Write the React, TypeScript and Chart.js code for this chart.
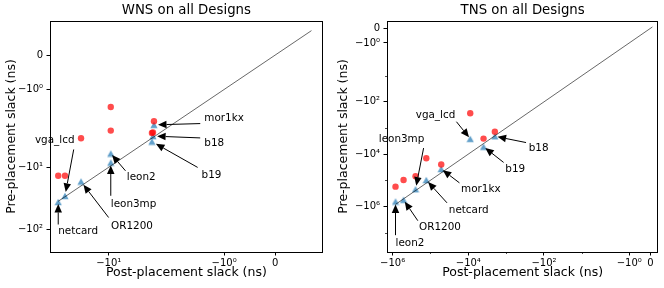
import React, { useEffect, useRef } from 'react';
import { Chart, Scale, registerables } from 'chart.js';

Chart.register(...registerables);

const FONT = "'DejaVu Sans', sans-serif";

// ---------------- WNS data ----------------
const wnsDesigns = ['netcard', 'vga_lcd', 'OR1200', 'leon3mp', 'leon2', 'mor1kx', 'b18', 'b19'];
const wnsPost = [-35.4, -29.9, -20.0, -9.5, -9.5, -3.22, -3.3, -3.39];
const wnsPre = [-36.3, -29.0, -17.0, -8.4, -6.0, -2.07, -3.14, -3.85];
const wnsPred = [-13.7, -13.7, -3.41, -2.56, -1.51, -1.92, -2.75, -2.8];
const wnsDiag = [-35.4, 0.71];
const wnsXRange = [-43.5, 0.93];
const wnsYRange = [-233, 0.99];
const wnsXTicks = [-10, -1, 0];
const wnsXTickLabels = ['−10¹', '−10⁰', '0'];
const wnsYTicks = [-100, -10, -1, 0];
const wnsYTickLabels = ['−10²', '−10¹', '−10⁰', '0'];
const wnsXMinorTicks: number[] = [];
const wnsYMinorTicks: number[] = [];
const wnsLabelOffsets = [[0, 32.4], [-30, -53], [30, 47], [0, 44], [16, 26.7], [50.3, -3.9], [51.3, 9.9], [49.7, 36]];

// ---------------- TNS data ----------------
const tnsDesigns = ['leon2', 'OR1200', 'leon3mp', 'netcard', 'mor1kx', 'vga_lcd', 'b19', 'b18'];
const tnsPost = [-8.4e5, -5.15e5, -2.48e5, -1.29e5, -5.2e4, -8.9e3, -3.96e3, -1.99e3];
const tnsPre = [-6.5e5, -5.6e5, -2.2e5, -9.8e4, -3.7e4, -2.6e3, -5.2e3, -2.08e3];
const tnsPred = [-1.76e5, -9.8e4, -7.0e4, -1.44e4, -2.5e4, -274, -2550, -1390];
const tnsDiag = [-8.4e5, 0.1];
const tnsXRange = [-1.41e6, 0.38];
const tnsYRange = [-5.56e7, 0.51];
const tnsXTicks = [-1e6, -1e4, -100, -1, 0];
const tnsXTickLabels = ['−10⁶', '−10⁴', '−10²', '−10⁰', '0'];
const tnsYTicks = [-1e6, -1e4, -100, -1, 0];
const tnsYTickLabels = ['−10⁶', '−10⁴', '−10²', '−10⁰', '0'];
const tnsXMinorTicks = [-1e5, -1e3, -10];
const tnsYMinorTicks = [-1e7, -1e5, -1e3, -10];
const tnsLabelOffsets = [[0, 44.5], [15.5, 30.6], [-36.8, -47.2], [22.5, 32.7], [19.8, 23], [-54.5, -21.1], [21.8, 25], [33.9, 14.7]];

// ---------------- symlog scale ----------------
const LINTHRESH = 2;
const LINADJ = 1 / (1 - 1 / 10);
function symlog(v: number) {
  const a = Math.abs(v);
  if (a <= LINTHRESH) return v * LINADJ;
  return Math.sign(v) * LINTHRESH * (LINADJ + Math.log10(a / LINTHRESH));
}
function invSymlog(t: number) {
  const a = Math.abs(t);
  if (a <= LINTHRESH * LINADJ) return t / LINADJ;
  return Math.sign(t) * LINTHRESH * Math.pow(10, a / LINTHRESH - LINADJ);
}

class SymlogScale extends Scale {
  static id = 'symlog';
  static defaults = {};
  _t0: number = 0;
  _t1: number = 1;
  determineDataLimits() {
    const o: any = this.options;
    const mm = this.getMinMax(false);
    this.min = o.min ?? mm.min;
    this.max = o.max ?? mm.max;
  }
  buildTicks() {
    const o: any = this.options;
    return (o.tickValues || []).map((v: number) => ({ value: v }));
  }
  configure() {
    super.configure();
    this._t0 = symlog(this.min);
    this._t1 = symlog(this.max);
  }
  getPixelForValue(v: number) {
    return this.getPixelForDecimal((symlog(v) - this._t0) / (this._t1 - this._t0));
  }
  getValueForPixel(p: number) {
    return invSymlog(this._t0 + this.getDecimalForPixel(p) * (this._t1 - this._t0));
  }
  getLabelForValue(v: number) {
    return String(v);
  }
}
Chart.register(SymlogScale as any);

// ---------------- markers ----------------
function triangleMarker(color: string) {
  const c = document.createElement('canvas');
  c.width = 8;
  c.height = 8;
  const g = c.getContext('2d')!;
  g.fillStyle = color;
  g.beginPath();
  g.moveTo(4, 0.8);
  g.lineTo(7.6, 7.2);
  g.lineTo(0.4, 7.2);
  g.closePath();
  g.fill();
  return c;
}

const ANN_FS = 10.4;
const SHRINK = 0.08;

function drawArrow(ctx: CanvasRenderingContext2D, x0: number, y0: number, x1: number, y1: number) {
  const dx = x1 - x0, dy = y1 - y0;
  const r = Math.hypot(dx, dy);
  if (r < 1) return;
  const ux = dx / r, uy = dy / r;
  const s = SHRINK * r;
  const sx = x0 + ux * s, sy = y0 + uy * s;
  const ex = x1 - ux * s, ey = y1 - uy * s;
  const hl = 8.5, hw = 7.5;
  const bx = ex - ux * hl, by = ey - uy * hl;
  ctx.strokeStyle = '#000';
  ctx.fillStyle = '#000';
  ctx.lineWidth = 1;
  ctx.beginPath();
  ctx.moveTo(sx, sy);
  ctx.lineTo(bx, by);
  ctx.stroke();
  ctx.beginPath();
  ctx.moveTo(ex, ey);
  ctx.lineTo(bx - uy * hw / 2, by + ux * hw / 2);
  ctx.lineTo(bx + uy * hw / 2, by - ux * hw / 2);
  ctx.closePath();
  ctx.fill();
}

function closest(arr: number[], v: number) {
  let best = arr[0];
  for (const a of arr) if (Math.abs(a - v) < Math.abs(best - v)) best = a;
  return best;
}

type Cfg = {
  title: string;
  designs: string[];
  post: number[];
  pre: number[];
  pred: number[];
  diag: number[];
  xRange: number[];
  yRange: number[];
  xTicks: number[];
  xTickLabels: string[];
  yTicks: number[];
  yTickLabels: string[];
  xMinor: number[];
  yMinor: number[];
  offsets: number[][];
  yAxisWidth: number;
  padRight: number;
  yTitlePad: number;
  left: number;
};

const TICK_FS = 10;

function makePlugin(cfg: Cfg) {
  return {
    id: 'frameAnnot',
    afterDraw(chart: any) {
      const { ctx, chartArea: a } = chart;
      const xs = chart.scales.x, ys = chart.scales.y;
      ctx.save();
      // y tick labels
      ctx.font = `${TICK_FS}px ${FONT}`;
      ctx.fillStyle = '#000';
      ctx.textAlign = 'right';
      ctx.textBaseline = 'middle';
      cfg.yTicks.forEach((v, i) => {
        ctx.fillText(cfg.yTickLabels[i], a.left - 7, ys.getPixelForValue(v));
      });
      // minor ticks
      ctx.strokeStyle = '#000';
      ctx.lineWidth = 0.7;
      cfg.xMinor.forEach((v) => {
        const px = Math.round(xs.getPixelForValue(v)) + 0.5;
        ctx.beginPath();
        ctx.moveTo(px, a.bottom);
        ctx.lineTo(px, a.bottom + 2);
        ctx.stroke();
      });
      cfg.yMinor.forEach((v) => {
        const py = ys.getPixelForValue(v);
        if (py < a.top || py > a.bottom) return;
        const y = Math.round(py) + 0.5;
        ctx.beginPath();
        ctx.moveTo(a.left, y);
        ctx.lineTo(a.left - 2, y);
        ctx.stroke();
      });
      // frame
      ctx.lineWidth = 1;
      const l = Math.round(a.left) + 0.5, t = Math.round(a.top) + 0.5;
      const r = Math.round(a.right) - 0.5, b = Math.round(a.bottom) + 0.5;
      ctx.strokeRect(l, t, r - l, b - t);
      // annotations
      ctx.font = `${ANN_FS}px ${FONT}`;
      ctx.textAlign = 'left';
      ctx.textBaseline = 'alphabetic';
      cfg.designs.forEach((name, i) => {
        const px = xs.getPixelForValue(cfg.post[i]);
        const py = ys.getPixelForValue(cfg.pre[i]);
        const [dx, dy] = cfg.offsets[i];
        const tx = px + dx, ty = py + dy;
        ctx.fillStyle = '#000';
        ctx.fillText(name, tx, ty);
        const w = ctx.measureText(name).width;
        const bxs = [tx, tx + w / 2, tx + w];
        const bys = [ty - 0.76 * ANN_FS, ty - 0.26 * ANN_FS, ty + 0.24 * ANN_FS];
        drawArrow(ctx, closest(bxs, px), closest(bys, py), px, py);
      });
      ctx.restore();
    },
  };
}

function buildConfig(cfg: Cfg): any {
  const tickFont = { family: FONT, size: TICK_FS };
  const grid = { display: true, drawOnChartArea: false, drawTicks: true, tickLength: 3.5, tickColor: '#000', tickWidth: 1 };
  return {
    type: 'scatter',
    data: {
      datasets: [
        {
          data: cfg.diag.map((v) => ({ x: v, y: v })),
          showLine: true,
          borderColor: 'rgba(0,0,0,0.75)',
          borderWidth: 0.8,
          pointRadius: 0,
          order: 0,
        },
        {
          data: cfg.post.map((x, i) => ({ x, y: cfg.pred[i] })),
          pointStyle: 'circle',
          pointRadius: 3.2,
          backgroundColor: 'rgba(255,0,0,0.7)',
          borderWidth: 0,
          order: 1,
        },
        {
          data: cfg.post.map((x, i) => ({ x, y: cfg.pre[i] })),
          pointStyle: triangleMarker('rgba(31,119,180,0.7)'),
          pointRadius: 4,
          borderWidth: 0,
          order: 2,
        },
      ],
    },
    options: {
      responsive: false,
      animation: false,
      events: [],
      layout: { padding: { left: 0, right: cfg.padRight, top: 0, bottom: 0 } },
      plugins: {
        legend: { display: false },
        tooltip: { enabled: false },
        title: {
          display: true,
          text: cfg.title,
          fullSize: false,
          color: '#000',
          font: { family: FONT, size: 13.3, weight: 'normal', lineHeight: 1.2 },
          padding: { top: 3, bottom: 2.04 },
        },
      },
      scales: {
        x: {
          type: 'symlog',
          position: 'bottom',
          min: cfg.xRange[0],
          max: cfg.xRange[1],
          tickValues: cfg.xTicks,
          ticks: {
            autoSkip: false,
            maxRotation: 0,
            padding: 2,
            color: '#000',
            font: tickFont,
            callback: (_v: any, i: number) => cfg.xTickLabels[i],
          },
          grid,
          border: { display: false },
          title: {
            display: true,
            text: 'Post-placement slack (ns)',
            color: '#000',
            font: { family: FONT, size: 12.5, lineHeight: 1.2 },
            padding: { top: 0, bottom: 7.3 },
          },
          afterFit: (s: any) => {
            s.height = 36;
          },
        },
        y: {
          type: 'symlog',
          position: 'left',
          min: cfg.yRange[0],
          max: cfg.yRange[1],
          tickValues: cfg.yTicks,
          ticks: {
            display: false,
            autoSkip: false,
            font: tickFont,
          },
          grid,
          border: { display: false },
          title: {
            display: true,
            text: 'Pre-placement slack (ns)',
            color: '#000',
            font: { family: FONT, size: 12.5, lineHeight: 1.2 },
            padding: { top: cfg.yTitlePad, bottom: 0 },
          },
          afterFit: (s: any) => {
            s.width = cfg.yAxisWidth;
          },
        },
      },
    },
    plugins: [makePlugin(cfg)],
  };
}

const wnsCfg: Cfg = {
  title: 'WNS on all Designs',
  designs: wnsDesigns,
  post: wnsPost,
  pre: wnsPre,
  pred: wnsPred,
  diag: wnsDiag,
  xRange: wnsXRange,
  yRange: wnsYRange,
  xTicks: wnsXTicks,
  xTickLabels: wnsXTickLabels,
  yTicks: wnsYTicks,
  yTickLabels: wnsYTickLabels,
  xMinor: wnsXMinorTicks,
  yMinor: wnsYMinorTicks,
  offsets: wnsLabelOffsets,
  yAxisWidth: 50,
  padRight: 9.3,
  yTitlePad: 4.5,
  left: 0,
};

const tnsCfg: Cfg = {
  title: 'TNS on all Designs',
  designs: tnsDesigns,
  post: tnsPost,
  pre: tnsPre,
  pred: tnsPred,
  diag: tnsDiag,
  xRange: tnsXRange,
  yRange: tnsYRange,
  xTicks: tnsXTicks,
  xTickLabels: tnsXTickLabels,
  yTicks: tnsYTicks,
  yTickLabels: tnsYTickLabels,
  xMinor: tnsXMinorTicks,
  yMinor: tnsYMinorTicks,
  offsets: tnsLabelOffsets,
  yAxisWidth: 55,
  padRight: 5.7,
  yTitlePad: 4.5,
  left: 332,
};

function SymlogPanel({ cfg }: { cfg: Cfg }) {
  const ref = useRef<HTMLCanvasElement>(null);
  useEffect(() => {
    const chart = new Chart(ref.current!, buildConfig(cfg));
    return () => chart.destroy();
  }, [cfg]);
  return (
    <canvas
      ref={ref}
      width={332}
      height={288}
      style={{ position: 'absolute', left: cfg.left, top: 0, width: 332, height: 288, display: 'block' }}
    />
  );
}

export default function App() {
  return (
    <div style={{ position: 'absolute', left: 0, top: 0, width: 664, height: 288, background: '#fff', overflow: 'hidden' }}>
      <SymlogPanel cfg={wnsCfg} />
      <SymlogPanel cfg={tnsCfg} />
    </div>
  );
}
